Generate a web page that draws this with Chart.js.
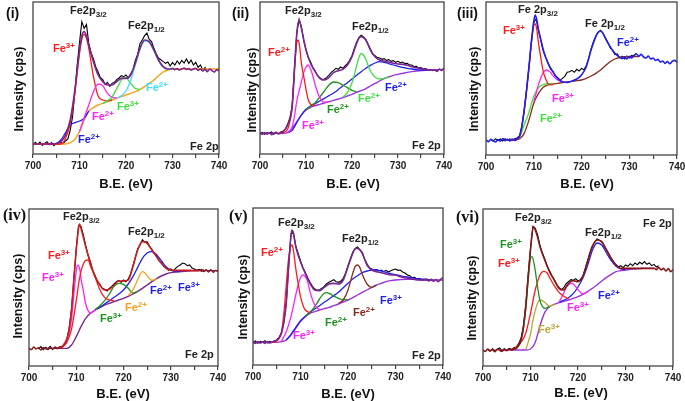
<!DOCTYPE html>
<html><head><meta charset="utf-8">
<script src="https://cdn.jsdelivr.net/npm/chart.js@4.4.0/dist/chart.umd.min.js"></script>
<style>
html,body{margin:0;padding:0;background:#fff;}
#root{position:relative;width:685px;height:401px;overflow:hidden;font-family:Arial,"Liberation Sans",sans-serif;font-weight:bold;}
canvas{position:absolute;}
.t{position:absolute;white-space:nowrap;line-height:1;font-size:11px;color:#222;}
.sp{position:relative;top:-4px;font-size:8px;}
.sb{position:relative;top:3px;font-size:8px;}
.yt{position:absolute;white-space:nowrap;font-size:12.5px;line-height:1;transform:translate(-50%,-50%) rotate(-90deg);color:#111;}
.xt{position:absolute;white-space:nowrap;font-size:13px;line-height:1;transform:translate(-50%,-50%);color:#111;}
.pl{font-size:14px;color:#111;}
.ps{font-family:"Liberation Serif","Times New Roman",serif;font-size:16px;color:#111;}
</style></head><body><div id="root"></div>
<script>
// ---------- axis ----------
const BE_MIN = 700, BE_MAX = 740, BE_STEP = 5;
const BE_LABELS = [700, 710, 720, 730, 740];

// ---------- panel (i) ----------
const i_black = [[700,28],[700.5,36],[701,30],[701.5,37],[702,27],[702.5,33],[703,38],[703.5,29],[704,35],[704.5,26],[705,33],[705.5,29],[706,36],[706.5,32],[707,40],[707.5,46],[708,72],[708.5,112],[709,186],[709.5,268],[710,335],[710.5,398],[711,378],[711.5,390],[712,332],[712.5,304],[713,286],[713.5,262],[714,247],[714.5,230],[715,224],[715.5,210],[716,216],[716.5,204],[717,213],[717.5,216],[718,224],[718.5,229],[719,236],[719.5,233],[720,238],[720.5,229],[721,242],[721.5,254],[722,282],[722.5,300],[723,332],[723.5,343],[724,356],[724.5,364],[725,345],[725.5,338],[726,318],[726.5,302],[727,288],[727.5,284],[728,278],[728.5,273],[729,277],[729.5,265],[730,276],[730.5,268],[731,280],[731.5,271],[732,282],[732.5,274],[733,286],[733.5,273],[734,283],[734.5,268],[735,276],[735.5,261],[736,268],[736.5,254],[737,260],[737.5,251]];
const i_env = [[700,31],[702,31],[704,31],[705,32],[706,38],[707,58],[708,103],[709,193],[710,313],[710.5,355],[711,368],[711.5,355],[712,328],[713,278],[714,238],[715,218],[716,208],[717,208],[718,218],[719,228],[720,228],[721,238],[722,273],[723,318],[724,343],[725,338],[726,313],[727,283],[728,263],[729,256],[729.5,256],[730,258],[730.5,254],[731,257],[731.5,253],[732,256],[732.5,259],[733,255],[733.5,257],[734,253],[734.5,256],[735,258],[735.5,252],[736,256],[736.5,250],[737,255],[737.5,248],[738,256],[738.5,251],[739,247],[739.5,254],[740,250]];
const i_bg = [[700,31],[707,31],[708,35],[709,45],[710,68],[711,103],[712,130],[713,140],[714,148],[715,153],[716,158],[717,163],[718,168],[719,173],[720,178],[721,183],[722,188],[723,194],[724,203],[725,213],[726,223],[727,236],[728,247],[729,253],[730,256],[740,256]];
const i_red = [[700,31],[706,31],[707,48],[708,93],[709,183],[710,303],[710.5,345],[711,360],[711.5,348],[712,318],[713,233],[714,175],[715,163],[716,160],[717,163]];
const i_blue = [[703,31],[705,33],[706,43],[707,65],[708,88],[709,95],[710,100],[711,108],[712,130]];
const i_mag = [[710,68],[711,110],[712,148],[713,188],[714,211],[715,206],[716,183],[717,171],[718,169]];
const i_green = [[715,153],[716,160],[717,172],[718,197],[719,223],[719.5,231],[720,230],[721,213],[722,198],[723,195]];
const i_cyan = [[718,168],[719,176],[720,190],[721,222],[722,268],[723,314],[724,340],[725,335],[726,310],[727,280],[728,261],[729,255],[730,256]];

// ---------- panel (ii) ----------
const ii_black = [[700,62],[700.5,66],[701,60],[701.5,65],[702,63],[702.5,67],[703,60],[703.5,65],[704,62],[704.5,67],[705,69],[705.5,75],[706,90],[706.5,110],[707,145],[707.5,255],[708,365],[708.5,405],[709,382],[709.5,342],[710,315],[710.5,290],[711,277],[711.5,260],[712,250],[712.5,236],[713,230],[713.5,224],[714,226],[714.5,230],[715,238],[715.5,246],[716,252],[716.5,258],[717,255],[717.5,262],[718,258],[718.5,265],[719,272],[719.5,282],[720,296],[720.5,318],[721,336],[721.5,350],[722,357],[722.5,352],[723,345],[723.5,330],[724,316],[724.5,300],[725,296],[725.5,290],[726,289],[726.5,285],[727,287],[727.5,282],[728,284],[728.5,279],[729,281],[729.5,276],[730,279],[730.5,275],[731,277],[731.5,272],[732,273],[732.5,268],[733,268],[733.5,263],[734,264],[734.5,259],[735,260],[735.5,256],[736,257],[736.5,253],[737,255],[737.5,251],[738,254],[738.5,252],[739,255]];
const ii_env = [[700,63],[700.5,60],[701,65],[701.5,61],[702,64],[702.5,59],[703,63],[703.5,66],[704,61],[704.5,64],[705,68],[706,88],[707,143],[707.5,255],[708,363],[708.5,403],[709,378],[709.5,345],[710,313],[711,273],[712,248],[713,228],[714,223],[715,231],[716,245],[717,251],[718,255],[719,268],[720,293],[721,333],[721.5,348],[722,353],[722.5,350],[723,343],[724,313],[725,293],[726,283],[727,280],[728,277],[729,273],[730,271],[731,270],[732,267],[733,263],[734,260],[735,257],[736,255],[737,253],[738,253],[738.5,249],[739,256],[739.5,252],[740,259]];
const ii_bg = [[700,63],[705,63],[706,65],[707,78],[708,98],[709,118],[710,133],[711,141],[712,146],[713,150],[714,154],[715,158],[716,162],[717,166],[718,170],[719,175],[720,180],[721,186],[722,191],[723,197],[724,205],[725,213],[726,220],[727,227],[728,232],[729,237],[730,240],[731,243],[732,246],[733,248],[734,250],[735,251],[736,252],[737,253],[739,254],[740,255]];
const ii_red = [[704,63],[705,65],[706,75],[707,150],[707.5,260],[708,335],[708.3,343],[708.6,325],[709,273],[709.5,235],[710,195],[710.5,163],[711,150],[712,146]];
const ii_blue = [[706,65],[707,72],[708,95],[709,118],[710,135],[711,145],[712,152],[713,160],[714,168],[715,176],[716,184],[717,194],[718,205],[719,215],[720,226],[721,237],[722,248],[723,258],[724,267],[725,274],[726,278],[727,276],[728,272],[729,268],[730,264],[731,261],[732,258],[733,256],[734,254],[735,253],[737,253]];
const ii_mag = [[706,65],[707,83],[707.5,115],[708,160],[708.5,190],[709,218],[709.5,245],[710,262],[710.5,268],[711,255],[711.5,235],[712,208],[713,170],[714,156],[715,158]];
const ii_dkgreen = [[710,133],[711,146],[712,155],[713,172],[714,190],[715,208],[716,217],[717,215],[718,208],[719,200],[720,192],[721,188]];
const ii_green = [[718,172],[719,185],[720,215],[721,265],[721.5,290],[722,303],[722.5,298],[723,285],[724,250],[725,232],[726,226],[727,228],[728,232]];

// ---------- panel (iii) ----------
const iii_black = [[701,47],[701.5,41],[702,49],[702.5,43],[703,48],[703.5,42],[704,49],[704.5,44],[705,48],[705.5,43],[706,49],[706.5,51],[707,57],[707.5,84],[708,133],[708.5,196],[709,262],[709.5,338],[710,398],[710.5,408],[711,373],[711.5,343],[712,312],[712.5,292],[713,276],[713.5,258],[714,251],[714.5,237],[715,233],[715.5,224],[716,230],[716.5,236],[717,248],[717.5,250],[718,254],[718.5,248],[719,257],[719.5,252],[720,260],[720.5,256],[721,268],[721.5,290],[722,318],[722.5,340],[723,357],[723.5,368],[724,374],[724.5,366],[725,352],[725.5,338],[726,322],[726.5,314],[727,301],[727.5,303],[728,291],[728.5,296],[729,288],[729.5,297],[730,291],[730.5,299],[731,296],[731.5,306]];
const iii_env = [[700,45],[700.5,40],[701,47],[701.5,43],[702,39],[702.5,46],[703,42],[703.5,49],[704,43],[704.5,47],[705,42],[705.5,48],[706,44],[706.5,49],[707,55],[707.5,85],[708,135],[708.5,195],[709,265],[709.5,340],[710,400],[710.3,420],[710.6,408],[711,375],[711.5,345],[712,315],[713,275],[714,250],[715,230],[716,220],[717,218],[718,222],[719,228],[720,240],[721,265],[722,315],[723,355],[723.5,368],[724,372],[724.5,365],[725,350],[726,325],[727,305],[728,293],[728.5,289],[729,294],[729.5,288],[730,296],[730.5,291],[731,299],[731.5,303],[732,296],[732.5,302],[733,294],[733.5,291],[734,297],[734.5,288],[735,291],[735.5,284],[736,287],[736.5,279],[737,282],[737.5,275],[738,280],[738.5,274],[739,281],[739.5,284],[740,278]];
const iii_bg = [[704,45],[706,45],[707,48],[708,65],[709,105],[710,155],[711,185],[712,203],[713,210],[714,213],[715,215],[716,217],[717,219],[718,221],[719,223],[720,225],[721,230],[722,237],[723,245],[724,255],[725,268],[726,280],[727,288],[728,293],[729,295],[730,295],[732,295]];
const iii_red = [[705,45],[706,45],[707,55],[707.5,85],[708,133],[708.5,195],[709,262],[709.5,335],[710,388],[710.3,393],[710.6,380],[711,335],[711.5,290],[712,250],[712.5,228],[713,214],[714,210]];
const iii_mag = [[710,160],[710.5,185],[711,212],[711.5,232],[712,248],[712.7,255],[713.5,248],[714,238],[715,225],[716,219]];
const iii_green = [[707,50],[708,90],[709,128],[710,176],[711,202],[712,211],[713,214],[714,214]];

// ---------- panel (iv) ----------
const iv_black = [[702,50],[702.5,57],[703,48],[703.5,55],[704,51],[704.5,58],[705,49],[705.5,56],[706,52],[706.5,57],[707,58],[707.5,66],[708,80],[708.5,112],[709,170],[709.5,262],[710,352],[710.5,420],[711,418],[711.5,392],[712,360],[712.5,332],[713,312],[713.5,285],[714,270],[714.5,252],[715,244],[715.5,232],[716,229],[716.5,224],[717,232],[717.5,238],[718,245],[718.5,252],[719,256],[719.5,250],[720,257],[720.5,252],[721,260],[721.5,275],[722,300],[722.5,325],[723,350],[723.5,362],[724,378],[724.5,370],[725,372],[725.5,358],[726,350],[726.5,336],[727,330],[727.5,315],[728,310],[728.5,298],[729,295],[729.5,286],[730,290],[730.5,284],[731,292],[731.5,298],[732,302],[732.5,308],[733,306],[733.5,300],[734,302],[734.5,293],[735,290],[735.5,286],[736,289],[736.5,283],[737,288]];
const iv_tailL = [[700,52],[700.5,48],[701,56],[701.5,50],[702,54],[702.5,47],[703,55],[703.5,51],[704,48],[704.5,55],[705,50],[705.5,54],[706,51],[706.5,54],[707,57]];
const iv_env = [[706.5,54],[707,57],[708,77],[708.5,110],[709,167],[709.5,260],[710,347],[710.5,415],[710.7,425],[711,412],[711.5,385],[712,357],[713,307],[714,267],[715,242],[716,227],[717,229],[718,242],[719,254],[720,254],[721,257],[722,297],[723,347],[724,372],[725,367],[726,347],[727,327],[728,307],[729,292],[730,287],[731,286],[732,286],[733,286],[734,286],[735,285],[736,285]];
const iv_tailR = [[736,285],[736.5,289],[737,282],[737.5,288],[738,281],[738.5,288],[739,280],[739.5,286],[740,282]];
const iv_bg = [[703,52],[708,52],[709,62],[710,87],[711,117],[712,142],[713,157],[714,167],[715,175],[716,182],[717,187],[718,192],[719,197],[720,202],[721,208],[722,215],[723,223],[724,232],[725,242],[726,252],[727,261],[728,269],[729,275],[730,279],[731,281],[732,282],[733,283],[734,284],[735,285],[740,285]];
const iv_red = [[706,52],[707,56],[708,70],[709,110],[710,195],[710.5,245],[711,283],[711.5,305],[712,316],[712.5,317],[713,300],[714,265],[715,228],[716,205],[717,197],[718,195]];
const iv_mag = [[707,55],[708,80],[708.5,100],[709,140],[709.5,215],[710,285],[710.4,302],[710.8,285],[711,262],[711.5,225],[712,185],[712.5,165],[713,158],[714,167]];
const iv_green = [[714,168],[715,180],[716,195],[717,215],[718,238],[719,247],[720,244],[721,232],[722,218],[723,223]];
const iv_blue = [[714,168],[715,175],[716,185],[717,195],[718,205],[719,215],[720,227],[721,245],[722,267],[723,295],[724,322],[725,338],[726,342],[727,333],[728,315],[729,297],[730,287],[731,283],[732,282]];
const iv_orange = [[721,210],[722,228],[723,258],[723.5,274],[724,282],[724.5,279],[725,270],[726,256],[727,261]];

// ---------- panel (v) ----------
const v_black = [[700,67],[700.5,72],[701,65],[701.5,71],[702,68],[702.5,73],[703,66],[703.5,71],[704,68],[704.5,73],[705,74],[705.5,84],[706,97],[706.5,128],[707,188],[707.5,295],[708,392],[708.5,398],[709,358],[709.5,335],[710,312],[710.5,292],[711,278],[711.5,262],[712,248],[712.5,236],[713,228],[713.5,224],[714,226],[714.5,230],[715,236],[715.5,244],[716,248],[716.5,252],[717,256],[717.5,250],[718,248],[718.5,252],[719,260],[719.5,276],[720,298],[720.5,318],[721,338],[721.5,350],[722,354],[722.5,346],[723,338],[723.5,318],[724,304],[724.5,292],[725,288],[725.5,284],[726,286],[726.5,282],[727,285],[727.5,280],[728,284],[728.5,279],[729,283],[729.5,286],[730,288],[730.5,284],[731,285],[731.5,279],[732,276],[732.5,270],[733,268],[733.5,262],[734,263],[734.5,258],[735,260],[735.5,255],[736,258],[736.5,254],[737,257],[737.5,253],[738,256]];
const v_env = [[700,68],[700.5,65],[701,70],[701.5,66],[702,69],[702.5,65],[703,70],[703.5,66],[704,69],[704.5,71],[705,75],[705.5,82],[706,95],[706.5,130],[707,185],[707.5,295],[708,390],[708.2,405],[708.5,395],[709,355],[709.5,330],[710,310],[711,275],[712,245],[713,225],[714,223],[715,233],[716,243],[717,245],[718,243],[719,255],[720,295],[721,335],[721.5,348],[722,350],[722.5,345],[723,335],[724,300],[725,285],[726,280],[727,277],[728,273],[729,270],[730,270],[731,265],[732,262],[733,259],[734,257],[735,255],[736,255],[736.5,258],[737,252],[737.5,257],[738,251],[738.5,256],[739,250],[739.5,257],[740,262]];
const v_bg = [[700,68],[705,68],[706,70],[707,75],[708,90],[709,110],[710,130],[711,145],[712,155],[713,160],[714,165],[715,169],[716,173],[717,178],[718,183],[719,189],[720,195],[721,202],[722,210],[723,218],[724,225],[725,233],[726,240],[727,245],[728,250],[729,253],[730,255],[731,256],[732,257],[734,257],[735,256],[736,255],[740,255]];
const v_red = [[704,68],[705,72],[706,100],[706.5,155],[707,240],[707.5,320],[708,358],[708.2,360],[708.5,345],[709,290],[709.5,245],[710,205],[710.5,180],[711,165],[712,157]];
const v_mag = [[706,72],[707,100],[708,145],[709,210],[709.5,240],[710,262],[710.6,270],[711,265],[711.5,250],[712,220],[713,180],[714,166]];
const v_green = [[711,147],[712,158],[713,175],[714,198],[715,215],[715.5,217],[716,215],[717,207],[718,200],[719,196],[720,196]];
const v_blue = [[707,75],[708,92],[709,113],[710,133],[711,146],[712,158],[713,168],[714,178],[715,188],[716,198],[717,208],[718,218],[719,232],[720,245],[721,258],[722,268],[723,277],[724,282],[725,285],[726,285],[727,282],[728,278],[729,274],[730,271],[731,268],[732,265],[733,263],[734,260],[735,258],[736,257],[737,256]];
const v_brown = [[718,185],[719,195],[720,225],[721,275],[721.5,295],[722,300],[722.5,292],[723,272],[724,243],[725,233],[726,240]];

// ---------- panel (vi) ----------
const vi_black = [[701,48],[701.5,43],[702,51],[702.5,45],[703,49],[703.5,53],[704,45],[704.5,51],[705,46],[705.5,52],[706,49],[706.5,54],[707,56],[707.5,66],[708,82],[708.5,118],[709,182],[709.5,270],[710,352],[710.5,418],[711,412],[711.5,392],[712,360],[712.5,338],[713,320],[713.5,300],[714,285],[714.5,270],[715,258],[715.5,244],[716,235],[716.5,228],[717,234],[717.5,246],[718,252],[718.5,258],[719,256],[719.5,261],[720,254],[720.5,258],[721,268],[721.5,290],[722,314],[722.5,338],[723,358],[723.5,370],[724,380],[724.5,376],[725,372],[725.5,360],[726,348],[726.5,335],[727,322],[727.5,310],[728,303],[728.5,296],[729,300],[729.5,294],[730,302],[730.5,298],[731,306],[731.5,300],[732,308],[732.5,303],[733,310],[733.5,305],[734,312],[734.5,304],[735,308],[735.5,300],[736,304],[736.5,296],[737,300]];
const vi_env = [[700,47],[700.5,43],[701,50],[701.5,45],[702,48],[702.5,42],[703,49],[703.5,46],[704,43],[704.5,49],[705,45],[705.5,50],[706,47],[706.5,50],[707,52],[708,77],[708.5,115],[709,177],[709.5,265],[710,347],[710.6,417],[711,407],[711.5,385],[712,357],[713,317],[714,282],[715,257],[716,232],[717,227],[718,247],[719,255],[720,252],[721,267],[722,312],[723,357],[724,377],[725,372],[726,347],[727,322],[728,302],[729,292],[730,292],[732,292],[734,292],[736,292],[736.5,288],[737,295],[737.5,287],[738,292],[738.5,284],[739,291],[739.5,282],[740,288]];
const vi_bg = [[704,47],[709,47],[710,50],[711,70],[712,120],[713,160],[714,177],[715,184],[716,189],[717,193],[718,197],[719,202],[720,207],[721,214],[722,222],[723,232],[724,242],[725,254],[726,265],[727,274],[728,282],[729,285],[730,287],[731,289],[732,290],[733,291],[734,292],[736,292]];
const vi_red = [[706,47],[707,55],[708,70],[709,97],[710,157],[711,227],[712,272],[712.8,283],[713.5,278],[714,265],[715,240],[716,220],[717,208],[718,200]];
const vi_green = [[706,47],[707,52],[708,75],[708.5,110],[709,170],[709.5,255],[710,322],[710.3,327],[710.7,310],[711,285],[711.5,235],[712,195],[712.5,178],[713,172],[714,177]];
const vi_olive = [[709,48],[710,95],[710.5,135],[711,165],[711.5,188],[712,197],[712.5,195],[713,190],[714,178],[715,184]];
const vi_mag = [[716,190],[717,218],[717.5,235],[718,243],[718.6,247],[719,245],[720,228],[721,215],[722,222]];
const vi_blue = [[716,190],[717,196],[718,204],[719,216],[720,236],[721,262],[722,300],[723,345],[724,368],[725,362],[726,338],[727,315],[728,298],[729,290],[730,288]];

// ---------- colours ----------
const C = {black:'#000000', red:'#ff1a1a', mag:'#ff22ff', blue:'#2020ee', cyan:'#40dcff', orange:'#f7a11a',
  green:'#3ee03e', dkgreen:'#1f931f', brown:'#8b2a1a', olive:'#b8a838', purpleEnv:'#7a2590', purpleBg:'#9a33dd',
  darkred:'#8b1515', redEnv:'#cc1c1c'};

// ---------- panels: plot box [left, top, right, bottom] in page px, y range ----------
const panels = [
 {box:[33,2,219,154], ymin:1, ymax:457, series:[
   [i_black,C.black,1.1,0],[i_bg,C.orange,1.4,1],[i_blue,C.blue,1.3,1],[i_red,C.red,1.3,1],[i_mag,C.mag,1.3,1],
   [i_green,C.green,1.3,1],[i_cyan,C.cyan,1.3,1],[i_env,C.purpleEnv,1.6,1]]},
 {box:[260,2,444,154], ymin:1, ymax:457, series:[
   [ii_black,C.black,1.1,0],[ii_bg,C.purpleBg,1.4,1],[ii_blue,C.blue,1.3,1],[ii_dkgreen,C.dkgreen,1.3,1],[ii_green,C.green,1.3,1],
   [ii_mag,C.mag,1.3,1],[ii_red,C.red,1.3,1],[ii_env,C.purpleEnv,1.6,1]]},
 {box:[486,2,677,155], ymin:0, ymax:459, series:[
   [iii_black,C.black,1.1,0],[iii_bg,C.brown,1.3,1],[iii_green,C.green,1.3,1],[iii_mag,C.mag,1.3,1],[iii_red,C.red,1.3,1],
   [iii_env,C.blue,1.6,1]]},
 {box:[29,209,218,366], ymin:-1, ymax:470, series:[
   [iv_black,C.black,1.1,0],[iv_bg,C.purpleEnv,1.4,1],[iv_blue,C.blue,1.3,1],[iv_green,C.dkgreen,1.3,1],[iv_orange,C.orange,1.3,1],
   [iv_mag,C.mag,1.3,1],[iv_red,C.red,1.3,1],[iv_tailL,C.darkred,1.4,1],[iv_tailR,C.darkred,1.4,1],[iv_env,C.redEnv,1.6,1]]},
 {box:[253,208,443,365], ymin:0, ymax:471, series:[
   [v_black,C.black,1.1,0],[v_bg,C.purpleBg,1.4,1],[v_blue,C.blue,1.3,1],[v_green,C.dkgreen,1.3,1],[v_brown,C.brown,1.3,1],
   [v_mag,C.mag,1.3,1],[v_red,C.red,1.3,1],[v_env,C.purpleEnv,1.6,1]]},
 {box:[483,209,673,366], ymin:-1, ymax:470, series:[
   [vi_black,C.black,1.1,0],[vi_bg,C.purpleBg,1.4,1],[vi_blue,C.blue,1.3,1],[vi_mag,C.mag,1.3,1],[vi_olive,C.olive,1.3,1],
   [vi_red,C.red,1.3,1],[vi_green,C.dkgreen,1.3,1],[vi_env,C.darkred,1.6,1]]}
];

// ---------- text ----------
const sup = s => '<span class="sp">'+s+'</span>';
const sub = s => '<span class="sb">'+s+'</span>';
const P32 = 'Fe2p'+sub('3/2'), P12 = 'Fe2p'+sub('1/2');
const LABELS = [
 // [left, top, html, color, class]
 [6,6,'(i)','#111','pl'],[70,5,P32,'#222',''],[128,20,P12,'#222',''],
 [53,43,'Fe'+sup('3+'),C.red,''],[92,111,'Fe'+sup('2+'),C.mag,''],[117,101,'Fe'+sup('3+'),C.green,''],
 [146,82,'Fe'+sup('2+'),C.cyan,''],[78,134,'Fe'+sup('2+'),C.blue,''],[190,141,'Fe 2p','#222',''],

 [232,6,'(ii)','#111','pl'],[285,5,P32,'#222',''],[352,21,P12,'#222',''],
 [268,47,'Fe'+sup('2+'),C.red,''],[302,120,'Fe'+sup('3+'),C.mag,''],[327,104,'Fe'+sup('2+'),C.dkgreen,''],
 [358,93,'Fe'+sup('2+'),C.green,''],[385,82,'Fe'+sup('2+'),C.blue,''],[412,140,'Fe 2p','#222',''],

 [457,6,'(iii)','#111','pl'],[518,4,'Fe 2p'+sub('3/2'),'#222',''],[585,18,'Fe 2p'+sub('1/2'),'#222',''],
 [617,37,'Fe'+sup('2+'),C.blue,''],[503,25,'Fe'+sup('3+'),C.red,''],[552,93,'Fe'+sup('3+'),C.mag,''],
 [540,113,'Fe'+sup('2+'),C.green,''],

 [3,207,'(iv)','#111','ps'],[63,211,P32,'#222',''],[128,226,P12,'#222',''],
 [48,250,'Fe'+sup('3+'),C.red,''],[42,272,'Fe'+sup('3+'),C.mag,''],[100,313,'Fe'+sup('3+'),C.dkgreen,''],
 [125,302,'Fe'+sup('2+'),C.orange,''],[150,285,'Fe'+sup('2+'),C.blue,''],[178,282,'Fe'+sup('3+'),C.blue,''],
 [185,349,'Fe 2p','#222',''],

 [229,208,'(v)','#111','ps'],[278,217,P32,'#222',''],[342,233,P12,'#222',''],
 [261,247,'Fe'+sup('2+'),C.red,''],[293,330,'Fe'+sup('3+'),C.mag,''],[325,317,'Fe'+sup('2+'),C.dkgreen,''],
 [353,307,'Fe'+sup('2+'),C.brown,''],[380,295,'Fe'+sup('3+'),C.blue,''],[412,350,'Fe 2p','#222',''],

 [456,209,'(vi)','#111','ps'],[515,212,P32,'#222',''],[585,227,P12,'#222',''],[643,218,'Fe 2p','#222',''],
 [500,239,'Fe'+sup('3+'),C.dkgreen,''],[498,258,'Fe'+sup('3+'),C.red,''],[538,324,'Fe'+sup('3+'),C.olive,''],
 [567,302,'Fe'+sup('3+'),C.mag,''],[598,290,'Fe'+sup('2+'),C.blue,'']
];
const YTITLES = [[19,89],[252,90],[474,89],[18,296],[243,297],[472,298]];
const XTITLES = [[126,183],[353,183],[587,183],[123,393],[348,393],[581,392]];

const root = document.getElementById('root');

const framePlugin = {id:'frame', afterDraw(chart){
  const {ctx, chartArea:a} = chart;
  ctx.save(); ctx.strokeStyle = '#444'; ctx.lineWidth = 1.3;
  ctx.strokeRect(a.left, a.top, a.right - a.left, a.bottom - a.top);
  ctx.restore();
}};

panels.forEach(p => {
  const [x0,y0,x1,y1] = p.box;
  const PADX = 15, PADT = 2, XH = 22;
  const cv = document.createElement('canvas');
  const w = (x1 - x0) + 2*PADX, h = (y1 - y0) + PADT + XH;
  cv.width = w; cv.height = h;
  cv.style.left = (x0 - PADX) + 'px'; cv.style.top = (y0 - PADT) + 'px';
  cv.style.width = w + 'px'; cv.style.height = h + 'px';
  root.appendChild(cv);
  const ds = p.series.map(([d,col,lw,smooth]) => ({
    data: d.map(q => ({x:q[0], y:q[1]})),
    borderColor: col, borderWidth: lw, pointRadius: 0, fill: false,
    tension: smooth ? 0.4 : 0, cubicInterpolationMode: smooth ? 'monotone' : 'default'
  })).reverse();
  new Chart(cv, {
    type: 'line',
    data: {datasets: ds},
    options: {
      responsive: false, animation: false, events: [],
      layout: {padding: {left: PADX, right: PADX, top: PADT, bottom: 0}},
      plugins: {legend: {display: false}, tooltip: {enabled: false}},
      scales: {
        x: {type: 'linear', min: BE_MIN, max: BE_MAX,
            ticks: {stepSize: BE_STEP, autoSkip: false, maxRotation: 0, padding: 2, color: '#222',
                    font: {family: 'Arial, "Liberation Sans", sans-serif', size: 10, weight: 'bold'},
                    callback: v => BE_LABELS.includes(v) ? String(v) : ''},
            grid: {display: true, drawOnChartArea: false, drawTicks: true, tickLength: 4, color: '#444', lineWidth: 1.2},
            border: {display: false},
            afterFit: s => { s.height = XH; }},
        y: {display: false, min: p.ymin, max: p.ymax}
      }
    },
    plugins: [framePlugin]
  });
});

LABELS.forEach(([x,y,html,col,cls]) => {
  const d = document.createElement('div');
  d.className = 't' + (cls ? ' ' + cls : '');
  d.style.left = x + 'px'; d.style.top = y + 'px'; d.style.color = col;
  d.innerHTML = html;
  root.appendChild(d);
});
YTITLES.forEach(([x,y]) => {
  const d = document.createElement('div'); d.className = 'yt';
  d.style.left = x + 'px'; d.style.top = y + 'px'; d.textContent = 'Intensity (cps)';
  root.appendChild(d);
});
XTITLES.forEach(([x,y]) => {
  const d = document.createElement('div'); d.className = 'xt';
  d.style.left = x + 'px'; d.style.top = y + 'px'; d.textContent = 'B.E. (eV)';
  root.appendChild(d);
});
</script></body></html>
